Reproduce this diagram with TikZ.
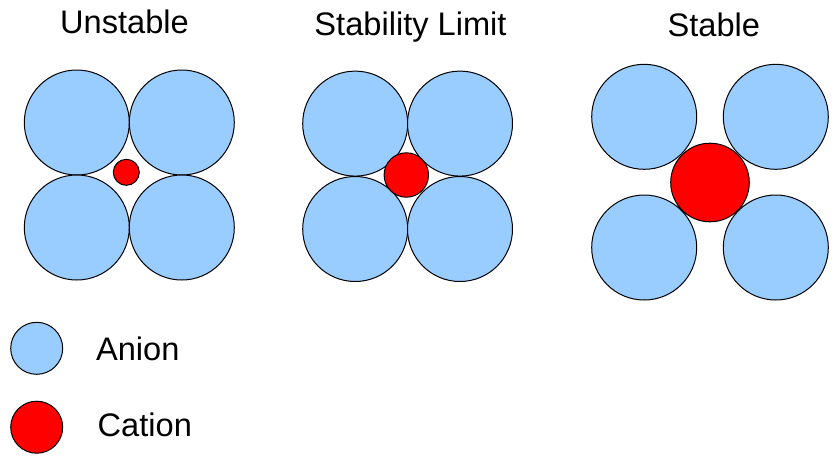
\documentclass[tikz,border=0pt]{standalone}
\usepackage{fontspec}
\setmainfont{Liberation Sans}
\usepackage{xcolor}
\usetikzlibrary{positioning}
\definecolor{anionblue}{HTML}{99CCFF}
\definecolor{cationred}{HTML}{FF0000}
\tikzset{
    anion/.style={circle, draw=black, line width=0.5pt, fill=anionblue, minimum size=52.5pt, inner sep=0pt},
    cation/.style={circle, draw=black, line width=0.5pt, fill=cationred, inner sep=0pt},
    title/.style={font=\fontsize{16.3}{19}\selectfont, anchor=base, inner sep=0pt},
    legend/.style={font=\fontsize{16.3}{19}\selectfont, anchor=base west, inner sep=0pt}
}
\begin{document}
\begin{tikzpicture}[x=0.5pt, y=-0.5pt]
    \useasboundingbox (0,0) rectangle (840,467);

    % unstable
    \node[title] (ttlunstable) at (124.5,33) {Unstable};
    \node[anion] (u1) at (76.8,122.5) {};
    \node[anion] (u2) at (181.8,122.5) {};
    \node[anion] (u3) at (76.8,227.5) {};
    \node[anion] (u4) at (181.8,227.5) {};
    \node[cation, minimum size=13pt] (uc) at (126.3,172.3) {};

    % stability limit
    \node[title] (ttllimit) at (410.5,35) {Stability Limit};
    \node[anion] (l1) at (355.2,123.6) {};
    \node[anion] (l2) at (460,123.6) {};
    \node[anion] (l3) at (355.2,229) {};
    \node[anion] (l4) at (460,229) {};
    \node[cation, minimum size=22.2pt] (lc) at (406.3,175) {};

    % stable
    \node[title] (ttlstable) at (713.8,36) {Stable};
    \node[anion] (s1) at (644.2,116.8) {};
    \node[anion] (s2) at (775.8,116.8) {};
    \node[anion] (s3) at (644.2,247.5) {};
    \node[anion] (s4) at (775.8,247.5) {};
    \node[cation, minimum size=39.3pt] (sc) at (710,182.5) {};

    % legend
    \node[anion, minimum size=26pt] (keyanion) at (36.7,348.3) {};
    \node[cation, minimum size=26pt] (keycation) at (36.7,427.2) {};
    \node[legend] (lblanion) at (95.7,360) {Anion};
    \node[legend] (lblcation) at (97.3,436.7) {Cation};
\end{tikzpicture}
\end{document}
